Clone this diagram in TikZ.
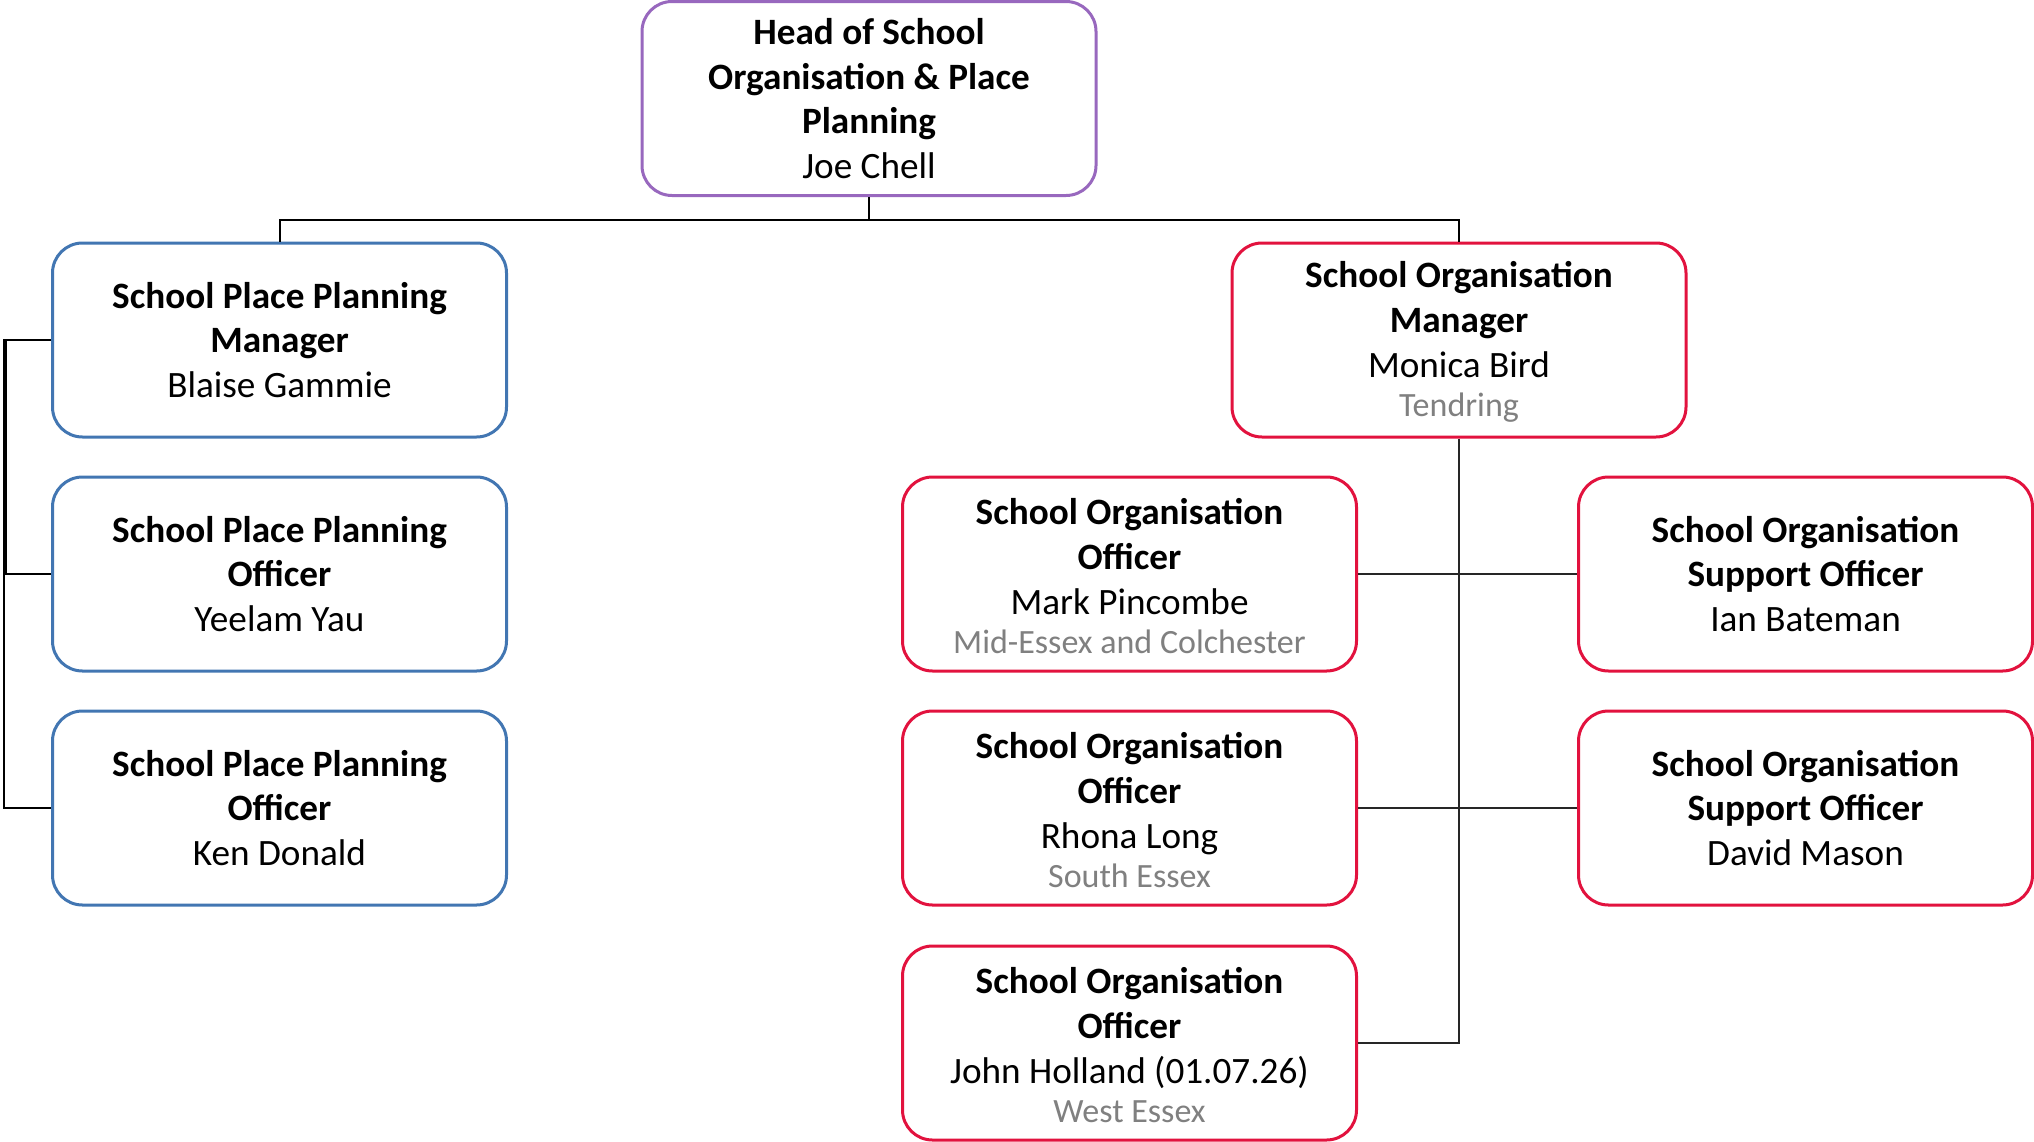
\documentclass[tikz,border=0pt]{standalone}
\usepackage{fontspec}
\setmainfont{Carlito}
\usepackage{tikz}

\definecolor{headpurple}{RGB}{152,104,190}
\definecolor{planblue}{RGB}{66,118,178}
\definecolor{orgred}{RGB}{226,18,62}
\definecolor{areagray}{RGB}{128,128,128}

\tikzset{
    post/.style={draw, rounded corners=15pt, line width=1.5pt, fill=white,
        minimum width=227pt, minimum height=97pt, align=center,
        font=\fontsize{18.6}{22.4}\selectfont},
    headbox/.style={post, draw=headpurple},
    planbox/.style={post, draw=planblue},
    orgbox/.style={post, draw=orgred},
    topline/.style={line width=1pt, black},
    subline/.style={line width=0.6pt, black!85}
}

\begin{document}
\begin{tikzpicture}[x=0.5pt, y=-0.5pt]
        \useasboundingbox (0,0) rectangle (2034,1141);

        % Head
        \node[headbox] (head) at (869,98.5) {\textbf{Head of School}\\ \textbf{Organisation \& Place}\\ \textbf{Planning}\\ Joe Chell};

        % Place planning
        \node[planbox] (sppm) at (279.5,340) {\textbf{School Place Planning}\\ \textbf{Manager}\\ Blaise Gammie};
        \node[planbox] (spo1) at (279.5,574) {\textbf{School Place Planning}\\ \textbf{Officer}\\ Yeelam Yau};
        \node[planbox] (spo2) at (279.5,808) {\textbf{School Place Planning}\\ \textbf{Officer}\\ Ken Donald};

        % School organisation
        \node[orgbox] (som) at (1459,340) {\rule{0pt}{15pt}\textbf{School Organisation}\\ \textbf{Manager}\\ Monica Bird\\[-3pt] {\fontsize{17}{20}\selectfont\color{areagray}Tendring}};
        \node[orgbox] (soo1) at (1129.5,574) {\rule{0pt}{15pt}\textbf{School Organisation}\\ \textbf{Officer}\\ Mark Pincombe\\[-3pt] {\fontsize{17}{20}\selectfont\color{areagray}Mid-Essex and Colchester}};
        \node[orgbox] (soo2) at (1129.5,808) {\rule{0pt}{15pt}\textbf{School Organisation}\\ \textbf{Officer}\\ Rhona Long\\[-3pt] {\fontsize{17}{20}\selectfont\color{areagray}South Essex}};
        \node[orgbox] (soo3) at (1129.5,1043) {\rule{0pt}{15pt}\textbf{School Organisation}\\ \textbf{Officer}\\ John Holland (01.07.26)\\[-3pt] {\fontsize{17}{20}\selectfont\color{areagray}West Essex}};
        \node[orgbox] (soso1) at (1805.5,574) {\textbf{School Organisation}\\ \textbf{Support Officer}\\ Ian Bateman};
        \node[orgbox] (soso2) at (1805.5,808) {\textbf{School Organisation}\\ \textbf{Support Officer}\\ David Mason};

        % Lines
        \draw[topline] (head.south) -- ++(0,23) -| (sppm.north);
        \draw[topline] (head.south) -- ++(0,23) -| (som.north);
        \draw[topline] (sppm.west) -- ++(-45,0) |- (spo1.west);
        \draw[topline] (sppm.west) -- ++(-47,0) |- (spo2.west);
        \draw[subline] (som.south) |- (soo3.east);
        \draw[subline] (soo1.east) -- (soso1.west);
        \draw[subline] (soo2.east) -- (soso2.west);
    \end{tikzpicture}
\end{document}
